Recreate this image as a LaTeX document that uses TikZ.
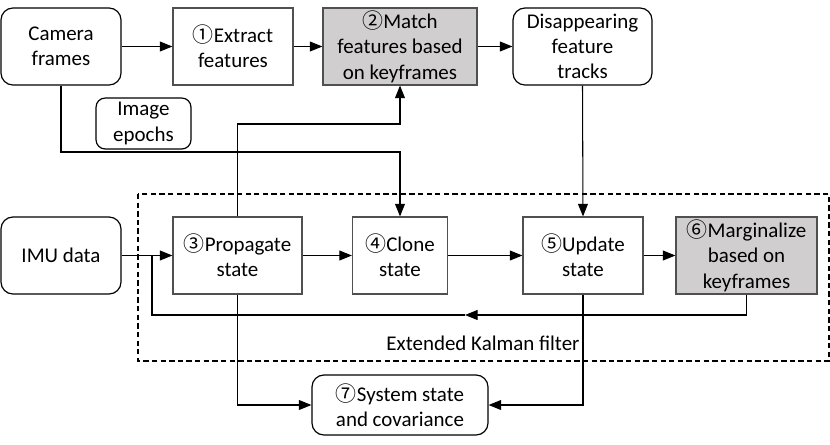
\documentclass[tikz,border=0pt]{standalone}
\usepackage{fontspec}
\setmainfont{Carlito}
\newfontfamily\circfont{Noto Sans CJK SC}
\usepackage{tikz}
\usetikzlibrary{arrows.meta,calc}
\usepackage{xcolor}
\definecolor{keygray}{RGB}{208,206,206}
\definecolor{boxline}{RGB}{80,80,80}
\newcommand{\stepno}[1]{{\circfont #1}}
\newcommand{\pxu}{0.0265cm}

\begin{document}
\begin{tikzpicture}[
        x=\pxu, y=-\pxu,
        >={Triangle[length=9.5pt,width=7.5pt]},
        font=\fontsize{15.8}{19.1}\selectfont,
        block/.style={rectangle, draw=boxline, line width=0.9pt, align=center, inner sep=0pt},
        datum/.style={block, rounded corners=9pt, draw=black},
        keyblock/.style={block, fill=keygray},
        link/.style={line width=0.8pt},
        ]
        \useasboundingbox (0,0) rectangle (830,444);

        % extended Kalman filter frame
        \draw[line width=0.8pt, dash pattern=on 4pt off 2.5pt] (138,194) rectangle (829,361);
        \node (ekf) at (483,343) {Extended Kalman filter};

        % top row
        \node (camera) at (61,46.5) [datum, minimum width=120*\pxu, minimum height=77*\pxu] {Camera\\frames};
        \node (extract) at (233,46.5) [block, minimum width=120*\pxu, minimum height=77*\pxu] {\stepno{①}Extract\\features};
        \node (match) at (400,46.5) [keyblock, minimum width=154*\pxu, minimum height=77*\pxu] {\stepno{②}Match\\features based\\on keyframes};
        \node (tracks) at (582.5,46.5) [datum, minimum width=139*\pxu, minimum height=77*\pxu] {Disappearing\\feature\\tracks};
        \node (epochs) at (143.5,123.5) [datum, rounded corners=7pt, minimum width=95*\pxu, minimum height=51*\pxu] {Image\\epochs};

        % filter row
        \node (imu) at (61,255.5) [datum, minimum width=120*\pxu, minimum height=77*\pxu] {IMU data};
        \node (propagate) at (237.5,255.5) [block, minimum width=129*\pxu, minimum height=77*\pxu] {\stepno{③}Propagate\\state};
        \node (clone) at (400,255.5) [block, minimum width=95*\pxu, minimum height=77*\pxu] {\stepno{④}Clone\\state};
        \node (update) at (583,255.5) [block, minimum width=120*\pxu, minimum height=77*\pxu] {\stepno{⑤}Update\\state};
        \node (marg) at (746.5,255.5) [keyblock, minimum width=141*\pxu, minimum height=77*\pxu] {\stepno{⑥}Marginalize\\based on\\keyframes};

        \node (system) at (400,405) [datum, minimum width=176*\pxu, minimum height=60*\pxu] {\stepno{⑦}System state\\and covariance};

        \coordinate (epochbend) at (400,152);
        \coordinate (propbend) at (237.5,124);
        \coordinate (back) at (465,315);
        \coordinate (join) at (152,255.5);

        \draw[->,link] (camera) -- (extract);
        \draw[->,link] (extract) -- (match);
        \draw[->,link] (match) -- (tracks);
        \draw[->,link] (camera.south) |- (epochbend) -- (clone.north);
        \draw[->,link] (propagate.north) |- (propbend -| match.south) -- (match.south);
        \draw[->,link] (tracks.south) -- (update.north);

        \draw[->,link] (imu) -- (propagate);
        \draw[->,link] (propagate) -- (clone);
        \draw[->,link] (clone) -- (update);
        \draw[->,link] (update) -- (marg);
        \draw[->,link] (marg.south) |- (back);
        \draw[link] (back) -| (join);

        \draw[->,link] (propagate.south) |- (system.west);
        \draw[->,link] (update.south) |- (system.east);

    \end{tikzpicture}
\end{document}
